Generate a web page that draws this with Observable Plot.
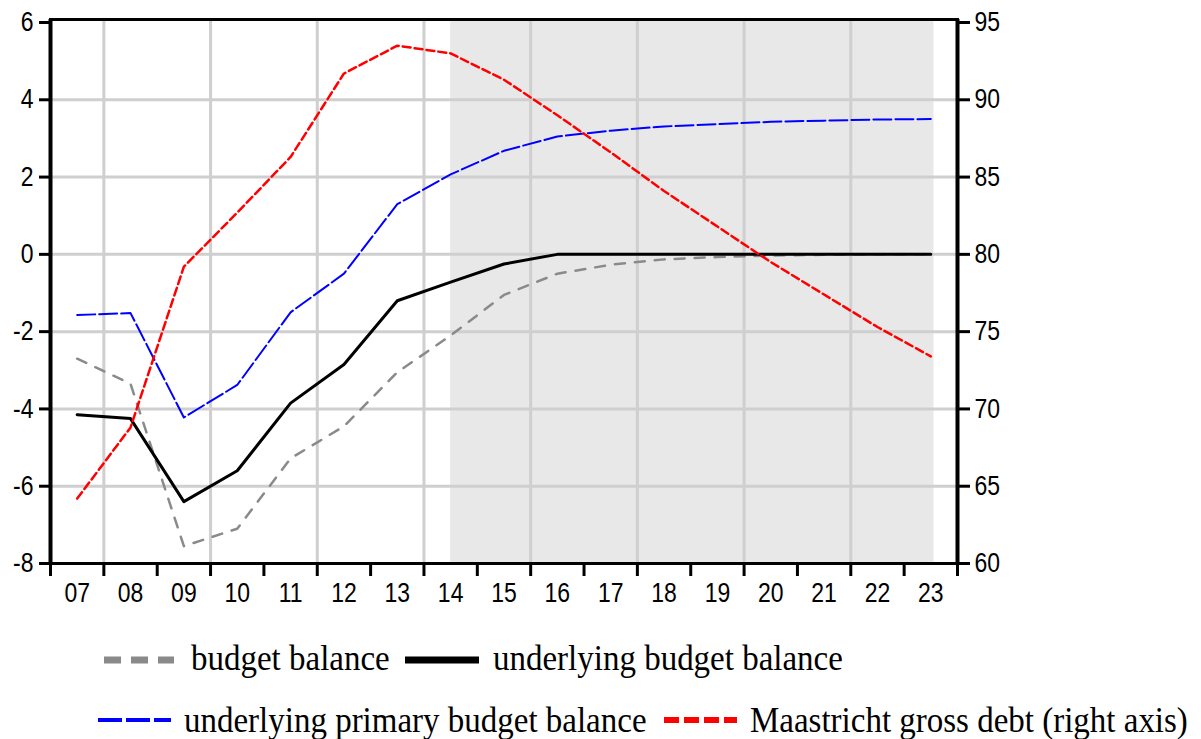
<!DOCTYPE html>
<html>
<head>
<meta charset="utf-8">
<script src="https://cdn.jsdelivr.net/npm/d3@7"></script>
<script src="https://cdn.jsdelivr.net/npm/@observablehq/plot@0.6"></script>
<style>
  body { margin: 0; background: #fff; }
  #wrap { position: relative; width: 1201px; height: 739px; overflow: hidden; background: #fff; }
  #chart svg, #legend svg { display: block; }
</style>
</head>
<body>
<div id="wrap">
  <div id="chart"></div>
  <div id="legend"></div>
</div>
<script>
// ---- data ----
const years = [2007, 2008, 2009, 2010, 2011, 2012, 2013, 2014, 2015, 2016, 2017, 2018, 2019, 2020, 2021, 2022, 2023];
const yearLabels = ["07", "08", "09", "10", "11", "12", "13", "14", "15", "16", "17", "18", "19", "20", "21", "22", "23"];
const budgetBalance = [-2.7, -3.35, -7.55, -7.1, -5.28, -4.45, -3.05, -2.1, -1.05, -0.5, -0.27, -0.13, -0.07, -0.03, -0.01, 0, 0];
const underlyingBalance = [-4.15, -4.25, -6.4, -5.6, -3.85, -2.85, -1.2, -0.72, -0.25, 0, 0, 0, 0, 0, 0, 0, 0];
const primaryBalance = [-1.57, -1.52, -4.22, -3.38, -1.5, -0.5, 1.3, 2.07, 2.68, 3.05, 3.2, 3.31, 3.37, 3.43, 3.46, 3.49, 3.5];
const grossDebt = [64.2, 68.8, 79.2, 82.7, 86.3, 91.7, 93.5, 93.0, 91.3, 89.0, 86.6, 84.1, 81.8, 79.5, 77.4, 75.3, 73.4];
const leftTicks = [-8, -6, -4, -2, 0, 2, 4, 6];
const rightTicks = [60, 65, 70, 75, 80, 85, 90, 95];
const projectionStart = [2014];
const projectionEnd = [2023.06];
const seriesNames = ["budget balance", "underlying budget balance", "underlying primary budget balance", "Maastricht gross debt (right axis)"];

// right axis: 80 lines up with 0 on the left, 5 right units per 2 left units
const rightToLeft = r => (r - 80) / 2.5;
const leftToRight = v => 80 + 2.5 * v;

const rows = years.map((y, i) => ({
  year: y,
  bb: budgetBalance[i],
  ub: underlyingBalance[i],
  pb: primaryBalance[i],
  debt: grossDebt[i]
}));
const shade = projectionStart.map((s, i) => ({ start: s, end: projectionEnd[i] }));
const hGrid = leftTicks.filter(t => t > leftTicks[0] && t < leftTicks[leftTicks.length - 1]);
const vGrid = years.filter((y, i) => i % 2 === 0 && i < years.length - 1).map(y => y + 0.5);
const xEdges = [years[0] - 0.5, years[years.length - 1] + 0.5];
const xTicks = years.map(y => y - 0.5).concat([years[years.length - 1] + 0.5]);

const chart = Plot.plot({
  width: 1201,
  height: 615,
  marginTop: 19,
  marginBottom: 52,
  marginLeft: 50,
  marginRight: 244,
  x: { domain: xEdges, axis: null },
  y: { domain: [leftTicks[0], leftTicks[leftTicks.length - 1]], insetTop: 3, axis: null },
  style: { fontFamily: "'Liberation Sans', Arial, sans-serif", fontSize: "25px", color: "#000", background: "#fff", overflow: "visible" },
  marks: [
    Plot.rect(shade, { x1: "start", x2: "end", fill: "#e8e8e8" }),
    Plot.ruleY(hGrid, { stroke: "#cfcfcf", strokeWidth: 3 }),
    Plot.ruleX(vGrid, { stroke: "#cfcfcf", strokeWidth: 3 }),
    Plot.line(rows, { x: "year", y: "bb", stroke: "#8a8a8a", strokeWidth: 2.5, strokeDasharray: "10,10" }),
    Plot.line(rows, { x: "year", y: "pb", stroke: "#0000ff", strokeWidth: 2, strokeDasharray: "18,4" }),
    Plot.line(rows, { x: "year", y: "ub", stroke: "#000", strokeWidth: 3 }),
    Plot.line(rows, { x: "year", y: d => rightToLeft(d.debt), stroke: "#ff0000", strokeWidth: 2.5, strokeDasharray: "8,4" }),
    Plot.frame({ stroke: "#000", strokeWidth: 3 }),
    Plot.ruleX(xEdges, { stroke: "#000", strokeWidth: 4 }),
    Plot.axisY(leftTicks, { anchor: "left", tickSize: 11, tickPadding: 6, strokeWidth: 3, tickFormat: d => String(d), label: null }),
    Plot.axisY(rightTicks.map(rightToLeft), { anchor: "right", tickSize: 12, tickPadding: 5, strokeWidth: 3, tickFormat: d => String(leftToRight(d)), label: null }),
    Plot.axisX(xTicks, { anchor: "bottom", tickSize: 13, strokeWidth: 3, tickFormat: () => "", label: null }),
    Plot.axisX(years, { anchor: "bottom", tickSize: 0, tickPadding: 19, tickFormat: (d, i) => yearLabels[years.indexOf(d)], label: null })
  ]
});
// slightly narrower, taller tick labels as in the reference
d3.select(chart).selectAll("text").each(function () {
  const t = this.getAttribute("transform");
  if (t && t.indexOf("translate") >= 0) this.setAttribute("transform", t + " scale(0.92,1.08)");
});
document.getElementById("chart").appendChild(chart);

// ---- legend below the chart ----
const legendItems = [
  { name: seriesNames[0], color: "#8a8a8a", dash: "17,10", w: 7, x0: 104, x1: 174, tx: 191, row: 0 },
  { name: seriesNames[1], color: "#000000", dash: null, w: 7, x0: 405, x1: 479, tx: 493, row: 0 },
  { name: seriesNames[2], color: "#0000ff", dash: "24,4", w: 4, x0: 98, x1: 171, tx: 184, row: 1 },
  { name: seriesNames[3], color: "#ff0000", dash: "15,5", w: 6, x0: 664, x1: 737, tx: 750, row: 1 }
];
const rowLine = [45, 105];   // sample line centre (relative to legend top at 615)
const rowBase = [55, 117];   // text baseline
const lg = d3.select("#legend").append("svg").attr("width", 1201).attr("height", 124);
legendItems.forEach(it => {
  const l = lg.append("line")
    .attr("x1", it.x0).attr("x2", it.x1)
    .attr("y1", rowLine[it.row]).attr("y2", rowLine[it.row])
    .attr("stroke", it.color).attr("stroke-width", it.w);
  if (it.dash) l.attr("stroke-dasharray", it.dash);
  lg.append("text")
    .attr("transform", `translate(${it.tx},${rowBase[it.row]}) scale(1,1.1)`)
    .attr("font-family", "'Liberation Serif', 'Times New Roman', serif")
    .attr("font-size", 33)
    .attr("fill", "#000")
    .text(it.name);
});
</script>
</body>
</html>
